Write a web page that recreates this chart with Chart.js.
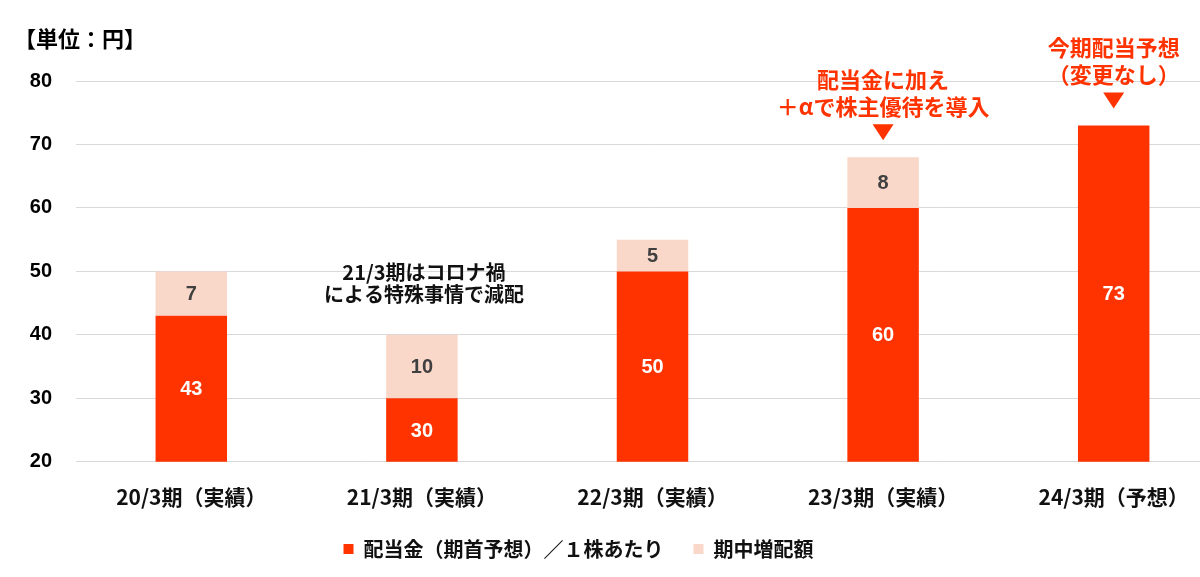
<!DOCTYPE html>
<html lang="ja">
<head>
<meta charset="utf-8">
<title>配当金の推移</title>
<script src="https://cdn.jsdelivr.net/npm/chart.js@4.4.1/dist/chart.umd.min.js"></script>
<style>
  html, body { margin: 0; padding: 0; background: #fff; overflow: hidden; }
  /* plot area runs past the right edge in the source, so the box is a bit wider than the window */
  .chart-box { position: relative; width: 1229px; height: 577px; }
</style>
</head>
<body>
<div class="chart-box"><canvas id="dividendChart"></canvas></div>
<script>
// Data
const periods = ['20/3期（実績）', '21/3期（実績）', '22/3期（実績）', '23/3期（実績）', '24/3期（予想）'];
const baseDividend = [43, 30, 50, 60, 73];
const interimIncrease = [7, 10, 5, 8, 0];
const yTicks = [20, 30, 40, 50, 60, 70, 80];
const seriesNames = ['配当金（期首予想）／１株あたり', '期中増配額'];
const unitLabel = '【単位：円】';

// Notes over bars: category index, text lines
const noteIndex = [1, 3, 4];
const noteLines = [
  ['21/3期はコロナ禍', 'による特殊事情で減配'],
  ['配当金に加え', '＋αで株主優待を導入'],
  ['今期配当予想', '（変更なし）']
];

const RED = '#FF3300';
const PEACH = '#F9D8C9';
const JP_FONT = '"Noto Sans CJK JP", "Noto Sans", sans-serif';
const NUM_FONT = '"Liberation Sans", Arial, "Noto Sans CJK JP", sans-serif';

// Value labels in the middle of each visible segment
const segmentLabels = {
  id: 'segmentLabels',
  afterDatasetsDraw(chart) {
    const ctx = chart.ctx;
    const area = chart.chartArea;
    ctx.save();
    ctx.textAlign = 'center';
    ctx.textBaseline = 'middle';
    ctx.font = 'bold 20px ' + NUM_FONT;
    chart.data.datasets.forEach(function(ds, di) {
      const meta = chart.getDatasetMeta(di);
      meta.data.forEach(function(bar, i) {
        const v = ds.data[i];
        if (!v) return;
        const top = Math.max(bar.y, area.top);
        const bottom = Math.min(bar.base, area.bottom);
        ctx.fillStyle = di === 0 ? '#ffffff' : '#404040';
        ctx.fillText(String(v), bar.x, (top + bottom) / 2 + 1);
      });
    });
    ctx.restore();
  }
};

// Unit label and the callouts above the bars
const notes = {
  id: 'notes',
  afterDraw(chart) {
    const ctx = chart.ctx;
    const x = chart.scales.x;
    const y = chart.scales.y;
    ctx.save();
    ctx.textBaseline = 'middle';

    ctx.fillStyle = '#000';
    ctx.textAlign = 'left';
    ctx.font = 'bold 22px ' + JP_FONT;
    ctx.fillText(unitLabel, 14, 39);

    ctx.textAlign = 'center';
    noteIndex.forEach(function(idx, n) {
      const cx = x.getPixelForValue(idx);
      const topY = y.getPixelForValue(baseDividend[idx] + interimIncrease[idx]);
      const lines = noteLines[n];
      if (n === 0) {
        // plain black note
        ctx.fillStyle = '#111';
        ctx.font = 'bold 20px ' + JP_FONT;
        ctx.fillText(lines[1], cx + 2, topY - 40);
        ctx.fillText(lines[0], cx + 2, topY - 62);
      } else {
        ctx.fillStyle = RED;
        // arrow
        const tipY = topY - 17;
        ctx.beginPath();
        ctx.moveTo(cx - 10.5, tipY - 16);
        ctx.lineTo(cx + 10.5, tipY - 16);
        ctx.lineTo(cx, tipY);
        ctx.closePath();
        ctx.fill();
        ctx.font = 'bold 22px ' + JP_FONT;
        ctx.fillText(lines[1], cx, tipY - 34);
        ctx.fillText(lines[0], cx, tipY - 61);
      }
    });
    ctx.restore();
  }
};

// Nudge the legend to sit where it does in the source
const legendShift = {
  id: 'legendShift',
  afterLayout(chart) {
    const lg = chart.legend;
    if (lg) {
      lg.left -= 36;
      lg.right -= 36;
      lg.top -= 24;
      lg.bottom -= 24;
    }
  }
};

const chart = new Chart(document.getElementById('dividendChart'), {
  type: 'bar',
  data: {
    labels: periods,
    datasets: [
      {
        label: seriesNames[0],
        data: baseDividend,
        backgroundColor: RED,
        borderWidth: 0,
        categoryPercentage: 1,
        barPercentage: 0.31
      },
      {
        label: seriesNames[1],
        data: interimIncrease,
        backgroundColor: PEACH,
        borderWidth: 0,
        categoryPercentage: 1,
        barPercentage: 0.31
      }
    ]
  },
  options: {
    responsive: true,
    maintainAspectRatio: false,
    animation: false,
    layout: { padding: { top: 81, left: 0, right: 0, bottom: -16 } },
    plugins: {
      legend: {
        position: 'bottom',
        labels: {
          boxWidth: 10,
          boxHeight: 10,
          padding: 30,
          color: '#111',
          font: { family: JP_FONT, size: 20, weight: 'bold' }
        }
      },
      tooltip: { enabled: false }
    },
    scales: {
      x: {
        stacked: true,
        grid: { display: false, drawTicks: false },
        border: { display: false },
        ticks: {
          padding: 23,
          color: '#111',
          font: { family: JP_FONT, size: 21, weight: 'bold' }
        }
      },
      y: {
        stacked: true,
        min: yTicks[0],
        max: yTicks[yTicks.length - 1],
        afterBuildTicks(scale) {
          scale.ticks = yTicks.map(function(v) { return { value: v }; });
        },
        afterFit(scale) {
          scale.width = 76;
        },
        grid: { color: '#D9D9D9', lineWidth: 1, drawTicks: false },
        border: { display: false },
        ticks: {
          padding: 24,
          color: '#000',
          font: { family: NUM_FONT, size: 20, weight: 'bold' }
        }
      }
    }
  },
  plugins: [segmentLabels, notes, legendShift]
});
</script>
</body>
</html>
